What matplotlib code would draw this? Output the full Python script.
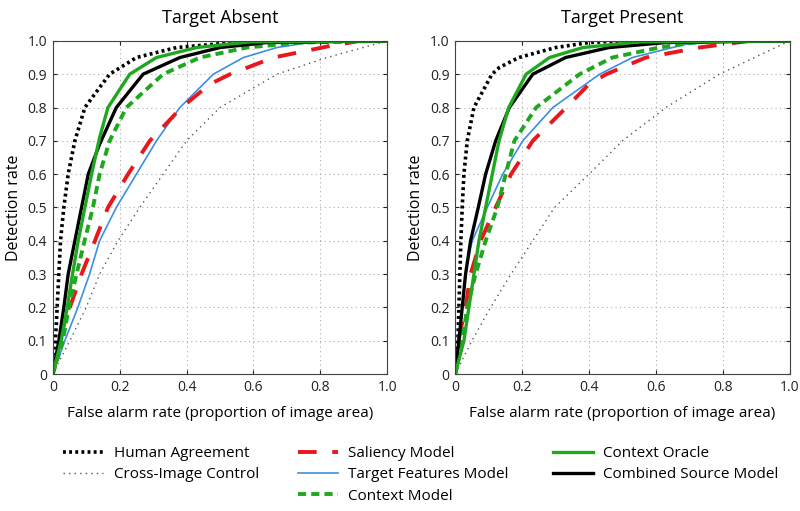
import matplotlib
matplotlib.use("Agg")
import matplotlib.pyplot as plt
from matplotlib.lines import Line2D

plt.rcParams['font.family'] = ['Open Sans', 'DejaVu Sans']

# --- Target Absent (left panel) ---
abs_human_x = [0, 0.004, 0.008, 0.013, 0.018, 0.023, 0.033, 0.046, 0.066, 0.096, 0.14, 0.17, 0.25, 0.37, 0.54, 0.7, 1.0]
abs_human_y = [0, 0.05, 0.1, 0.2, 0.3, 0.4, 0.5, 0.6, 0.7, 0.8, 0.86, 0.9, 0.95, 0.98, 0.995, 1.0, 1.0]
abs_cross_x = [0, 0.025, 0.051, 0.1, 0.14, 0.195, 0.26, 0.33, 0.4, 0.5, 0.67, 0.82, 1.0]
abs_cross_y = [0, 0.05, 0.1, 0.2, 0.3, 0.4, 0.5, 0.6, 0.7, 0.8, 0.9, 0.95, 1.0]
abs_sal_x = [0, 0.015, 0.031, 0.051, 0.086, 0.126, 0.165, 0.225, 0.29, 0.385, 0.47, 0.53, 0.66, 0.83, 0.92, 1.0]
abs_sal_y = [0, 0.07, 0.14, 0.2, 0.3, 0.4, 0.5, 0.6, 0.7, 0.8, 0.87, 0.9, 0.95, 0.985, 1.0, 1.0]
abs_tf_x = [0, 0.036, 0.075, 0.11, 0.14, 0.19, 0.25, 0.31, 0.38, 0.43, 0.48, 0.57, 0.67, 0.8, 1.0]
abs_tf_y = [0, 0.1, 0.2, 0.3, 0.4, 0.5, 0.6, 0.7, 0.8, 0.85, 0.9, 0.95, 0.98, 1.0, 1.0]
abs_ctx_x = [0, 0.03, 0.048, 0.071, 0.095, 0.12, 0.14, 0.17, 0.22, 0.33, 0.44, 0.58, 0.74, 1.0]
abs_ctx_y = [0, 0.1, 0.2, 0.3, 0.4, 0.5, 0.6, 0.7, 0.8, 0.9, 0.95, 0.98, 0.995, 1.0]
abs_orc_x = [0, 0.025, 0.043, 0.059, 0.076, 0.096, 0.116, 0.14, 0.165, 0.23, 0.31, 0.43, 0.59, 1.0]
abs_orc_y = [0, 0.1, 0.2, 0.3, 0.4, 0.5, 0.6, 0.71, 0.8, 0.9, 0.95, 0.98, 0.997, 1.0]
abs_comb_x = [0, 0.018, 0.033, 0.046, 0.066, 0.086, 0.106, 0.14, 0.19, 0.27, 0.38, 0.5, 0.64, 1.0]
abs_comb_y = [0, 0.1, 0.2, 0.3, 0.4, 0.5, 0.6, 0.69, 0.8, 0.9, 0.95, 0.98, 0.995, 1.0]

# --- Target Present (right panel) ---
pre_human_x = [0, 0.005, 0.008, 0.011, 0.014, 0.017, 0.021, 0.026, 0.036, 0.056, 0.11, 0.132, 0.19, 0.3, 0.4, 0.5, 1.0]
pre_human_y = [0, 0.05, 0.1, 0.2, 0.3, 0.4, 0.5, 0.6, 0.7, 0.8, 0.9, 0.92, 0.95, 0.98, 0.995, 1.0, 1.0]
pre_cross_x = [0, 0.05, 0.1, 0.132, 0.167, 0.232, 0.297, 0.4, 0.5, 0.63, 0.79, 1.0]
pre_cross_y = [0, 0.1, 0.19, 0.243, 0.3, 0.4, 0.5, 0.6, 0.7, 0.8, 0.9, 1.0]
pre_sal_x = [0, 0.01, 0.02, 0.031, 0.046, 0.076, 0.121, 0.167, 0.232, 0.332, 0.4, 0.452, 0.57, 0.73, 0.88, 1.0]
pre_sal_y = [0, 0.1, 0.15, 0.2, 0.3, 0.4, 0.5, 0.6, 0.7, 0.8, 0.87, 0.9, 0.95, 0.98, 1.0, 1.0]
pre_tf_x = [0, 0.011, 0.021, 0.031, 0.04, 0.051, 0.096, 0.142, 0.202, 0.292, 0.432, 0.53, 0.69, 0.82, 1.0]
pre_tf_y = [0, 0.1, 0.2, 0.3, 0.35, 0.4, 0.5, 0.6, 0.7, 0.8, 0.9, 0.95, 0.99, 1.0, 1.0]
pre_ctx_x = [0, 0.021, 0.036, 0.061, 0.091, 0.126, 0.151, 0.177, 0.242, 0.372, 0.47, 0.61, 0.75, 1.0]
pre_ctx_y = [0, 0.1, 0.2, 0.3, 0.4, 0.5, 0.6, 0.7, 0.8, 0.9, 0.95, 0.98, 1.0, 1.0]
pre_orc_x = [0, 0.026, 0.041, 0.056, 0.071, 0.091, 0.111, 0.131, 0.16, 0.212, 0.282, 0.382, 0.55, 1.0]
pre_orc_y = [0, 0.1, 0.2, 0.3, 0.4, 0.5, 0.6, 0.7, 0.8, 0.9, 0.95, 0.98, 0.997, 1.0]
pre_comb_x = [0, 0.011, 0.021, 0.031, 0.046, 0.069, 0.091, 0.121, 0.162, 0.232, 0.33, 0.46, 0.63, 1.0]
pre_comb_y = [0, 0.1, 0.2, 0.3, 0.4, 0.5, 0.6, 0.7, 0.8, 0.9, 0.95, 0.98, 0.995, 1.0]

labels = ["Human Agreement", "Cross-Image Control", "Saliency Model", "Target Features Model",
          "Context Model", "Context Oracle", "Combined Source Model"]

GREEN = '#1fa81f'
BLUE = '#3d8fe0'
RED = '#e8171c'

styles = [
    dict(color='black', lw=2.6, dashes=(0.8, 0.9)),
    dict(color='#555555', lw=1.0, dashes=(1, 3)),
    dict(color=RED, lw=2.8, dashes=(4.8, 4)),
    dict(color=BLUE, lw=1.2),
    dict(color=GREEN, lw=2.8, dashes=(2.1, 1.3)),
    dict(color=GREEN, lw=2.4),
    dict(color='black', lw=2.4),
]

panels = [
    ("Target Absent", [(abs_human_x, abs_human_y), (abs_cross_x, abs_cross_y), (abs_sal_x, abs_sal_y),
                       (abs_tf_x, abs_tf_y), (abs_ctx_x, abs_ctx_y), (abs_orc_x, abs_orc_y),
                       (abs_comb_x, abs_comb_y)]),
    ("Target Present", [(pre_human_x, pre_human_y), (pre_cross_x, pre_cross_y), (pre_sal_x, pre_sal_y),
                        (pre_tf_x, pre_tf_y), (pre_ctx_x, pre_ctx_y), (pre_orc_x, pre_orc_y),
                        (pre_comb_x, pre_comb_y)]),
]

fig = plt.figure(figsize=(8.0, 5.11), dpi=100)
lefts = [0.066, 0.569]
draw_order = [1, 0, 3, 2, 4, 6, 5]

for left, (title, series) in zip(lefts, panels):
    ax = fig.add_axes([left, 0.268, 0.418, 0.652])
    for i in draw_order:
        x, y = series[i]
        ax.plot(x, y, solid_capstyle='butt', dash_capstyle='butt', solid_joinstyle='round', **styles[i])
    ax.set_xlim(0, 1.0)
    ax.set_ylim(0, 1.0)
    ax.set_xticks([0, 0.2, 0.4, 0.6, 0.8, 1.0])
    ax.set_xticklabels(["0", "0.2", "0.4", "0.6", "0.8", "1.0"])
    ax.set_yticks([i / 10 for i in range(11)])
    ax.set_yticklabels(["0"] + [f"{i / 10:.1f}" for i in range(1, 11)])
    ax.tick_params(direction='in', length=3, labelsize=10, colors='#222222', pad=4,
                   top=True, right=True)
    ax.grid(True, color='#aaaaaa', linestyle=(0, (1, 3)), linewidth=0.8)
    for s in ax.spines.values():
        s.set_linewidth(0.8)
        s.set_color('#444444')
    ax.set_title(title, fontsize=13, pad=13)
    ax.set_xlabel("False alarm rate (proportion of image area)", fontsize=11, labelpad=8)
    ax.set_ylabel("Detection rate", fontsize=11.5, labelpad=4)

# --- legend in three columns ---
handles = [Line2D([], [], **st) for st in styles]
groups = [([0, 1], 0.079), ([2, 3, 4], 0.3725), ([5, 6], 0.691)]
for idx, xpos in groups:
    fig.legend([handles[i] for i in idx], [labels[i] for i in idx],
               loc='upper left', bbox_to_anchor=(xpos, 0.127), frameon=False,
               fontsize=11, handlelength=2.6, handletextpad=0.7, labelspacing=0.41,
               borderaxespad=0, borderpad=0)

fig.savefig("out.png", dpi=100)
